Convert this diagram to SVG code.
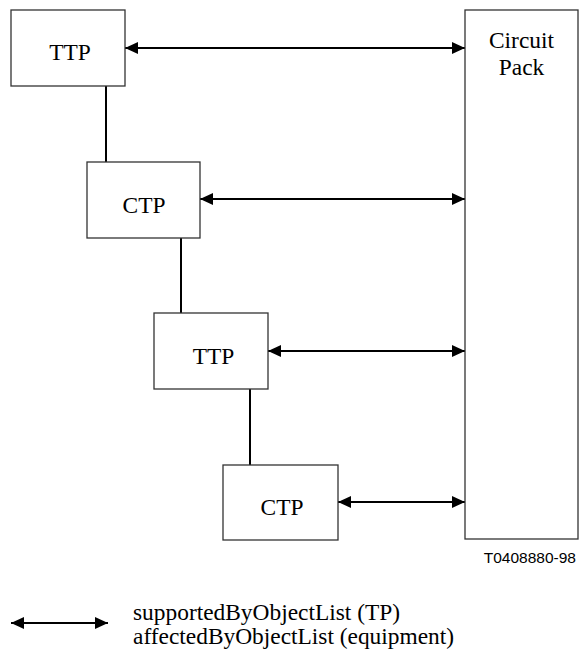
<svg xmlns="http://www.w3.org/2000/svg" width="580" height="657" viewBox="0 0 580 657">
<defs>
<marker id="ah" viewBox="0 0 13 12" refX="13" refY="6" markerWidth="13" markerHeight="12" markerUnits="userSpaceOnUse" orient="auto-start-reverse">
<path d="M0,0 L13,6 L0,12 Z" fill="#000"/>
</marker>
<style>
.box{fill:#fff;stroke:#333;stroke-width:1.3}
.lbl{font-size:23.4px;fill:#000}
.ln{stroke:#000;stroke-width:2;fill:none}
.arr{stroke:#000;stroke-width:2;fill:none;marker-start:url(#ah);marker-end:url(#ah)}
</style>
</defs>
<rect width="580" height="657" fill="#fff"/>
<g id="connectors">
<line class="ln" x1="106" y1="86" x2="106" y2="162"/>
<line class="ln" x1="181" y1="238" x2="181" y2="313"/>
<line class="ln" x1="250" y1="389" x2="250" y2="465"/>
<line class="arr" x1="125" y1="48" x2="465" y2="48"/>
<line class="arr" x1="200" y1="199" x2="465" y2="199"/>
<line class="arr" x1="268" y1="351" x2="465" y2="351"/>
<line class="arr" x1="338" y1="502" x2="465" y2="502"/>
</g>
<g font-family="Liberation Serif, Times New Roman, DejaVu Serif, serif">
<g id="ttp1"><rect class="box" x="11" y="10" width="114" height="76"/><text class="lbl" x="70" y="60" text-anchor="middle">TTP</text></g>
<g id="ctp1"><rect class="box" x="87" y="162" width="113" height="76"/><text class="lbl" x="144" y="213" text-anchor="middle">CTP</text></g>
<g id="ttp2"><rect class="box" x="154" y="313" width="114" height="76"/><text class="lbl" x="213.5" y="364" text-anchor="middle">TTP</text></g>
<g id="ctp2"><rect class="box" x="223" y="465" width="115" height="75"/><text class="lbl" x="282" y="515" text-anchor="middle">CTP</text></g>
<g id="circuitpack"><rect class="box" x="465" y="10" width="113" height="529"/><text class="lbl" x="521.5" y="48" text-anchor="middle">Circuit</text><text class="lbl" x="521.5" y="75" text-anchor="middle">Pack</text></g>
<g id="legend">
<line class="arr" x1="11" y1="623" x2="108" y2="623"/>
<text class="lbl" x="133" y="620">supportedByObjectList (TP)</text>
<text class="lbl" x="133" y="644">affectedByObjectList (equipment)</text>
</g>
</g>
<text x="576" y="563" text-anchor="end" font-family="Liberation Sans, Arial, sans-serif" font-size="15.5">T0408880-98</text>
</svg>
